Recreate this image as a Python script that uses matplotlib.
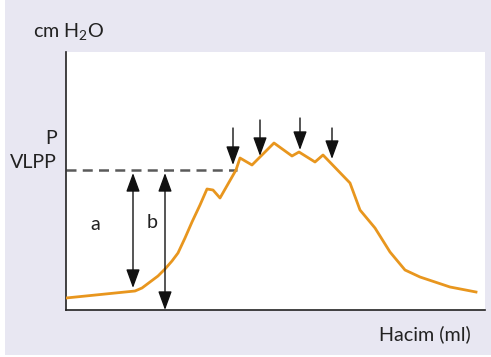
import matplotlib.pyplot as plt
from matplotlib.patches import Rectangle

# curve (volume, pressure) in arbitrary units
curve_x = [0, 69, 76, 84, 92, 99, 106, 112, 119, 126, 134, 141, 147, 154, 170,
           174, 186, 208, 226, 233, 249, 257, 284, 294, 309, 324, 339, 354, 384, 410]
curve_y = [12, 19, 22, 28, 34, 41, 49, 57, 72, 88, 105, 121, 120, 112, 140,
           152, 145, 167, 154, 158, 148, 155, 127, 100, 82, 58, 40, 33, 23, 18]

vlpp = 140
# double arrows a / b : x, bottom, top
dbl_x = [67, 99]
dbl_bottom = [22, 0]
dbl_top = [137, 137]
dbl_labels = ["a", "b"]
label_x = [29, 86]
label_y = [85, 87]
# down arrows marking the inflections: x, start, tip
down_x = [167, 194, 234, 266]
down_start = [182, 190, 192, 182]
down_tip = [145, 154, 160, 151]

plt.rcParams['font.family'] = ['Lato', 'DejaVu Sans']
plt.rcParams['mathtext.fontset'] = 'custom'
plt.rcParams['mathtext.rm'] = 'Lato'
plt.rcParams['mathtext.it'] = 'Lato:italic'

FS = 14.2
HEAD = "head_length=1.15,head_width=0.42"
W, H = 491, 357
fig = plt.figure(figsize=(W / 100, H / 100), dpi=100, facecolor="white")
fig.patches.append(Rectangle((5 / W, 2 / H), 1, 1, transform=fig.transFigure,
                             facecolor="#e8e7f2", edgecolor="none", zorder=-5))

ax = fig.add_axes([66 / W, 1 - 310 / H, 419 / W, 258 / H])
ax.set_zorder(2)
ax.set_facecolor("white")
ax.set_xlim(0, 419)
ax.set_ylim(0, 258)
for s in ["top", "right"]:
    ax.spines[s].set_visible(False)
for s in ["left", "bottom"]:
    ax.spines[s].set_color("#222222")
    ax.spines[s].set_linewidth(1.2)
ax.set_xticks([])
ax.set_yticks([])

ax.plot([0, 171], [vlpp, vlpp], color="#5a5a5a", lw=1.8, ls=(0, (4, 2.5)), zorder=2)
ax.plot(curve_x, curve_y, color="#e8961e", lw=2.0, zorder=3)

for x, b, t, lab, lx, ly in zip(dbl_x, dbl_bottom, dbl_top, dbl_labels, label_x, label_y):
    ax.annotate("", xy=(x, b), xytext=(x, t),
                arrowprops=dict(arrowstyle="<|-|>," + HEAD, color="#111111", lw=1.0,
                                mutation_scale=10, shrinkA=0, shrinkB=0))
    ax.text(lx, ly, lab, fontsize=FS, ha="center", va="center", color="#222222")

for x, s, t in zip(down_x, down_start, down_tip):
    ax.annotate("", xy=(x, t), xytext=(x, s),
                arrowprops=dict(arrowstyle="-|>," + HEAD, color="#111111", lw=1.0,
                                mutation_scale=10, shrinkA=0, shrinkB=0), zorder=4)

fig.text(33 / W, 1 - 37 / H, "cm H$_2$O", fontsize=FS, ha="left", va="baseline", color="#222222")
fig.text(57 / W, 1 - 144 / H, "P", fontsize=FS, ha="right", va="baseline", color="#222222")
fig.text(57 / W, 1 - 168 / H, "VLPP", fontsize=FS, ha="right", va="baseline", color="#222222")
fig.text(471 / W, 1 - 340 / H, "Hacim (ml)", fontsize=FS, ha="right", va="baseline", color="#222222")

fig.savefig("out.png", dpi=100, facecolor=fig.get_facecolor())
